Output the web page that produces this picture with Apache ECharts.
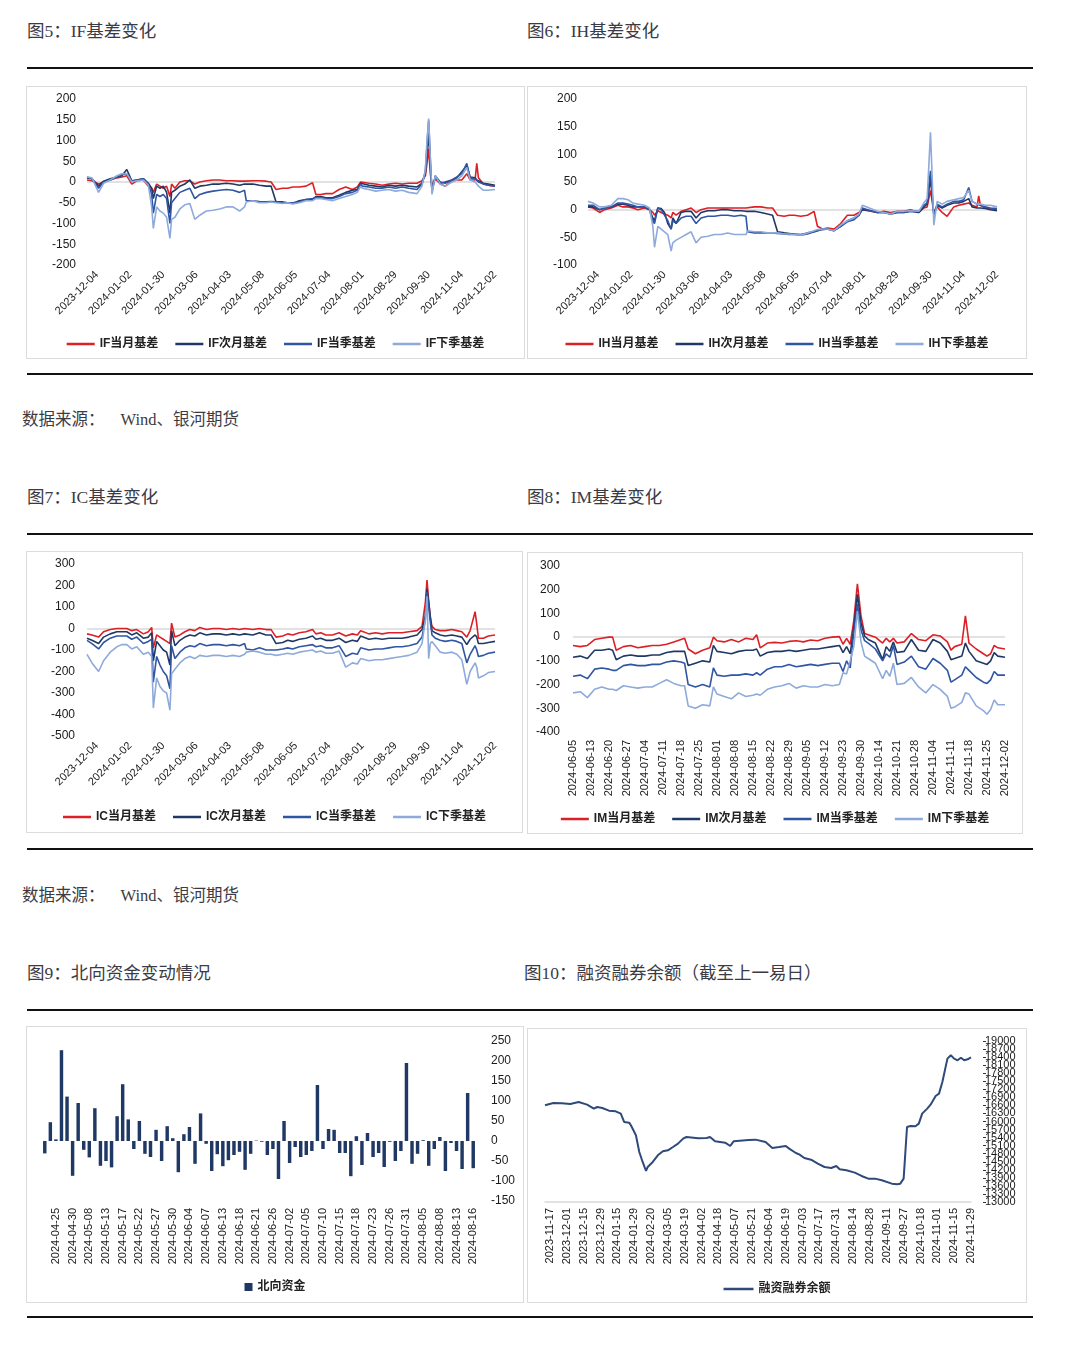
<!DOCTYPE html>
<html><head><meta charset="utf-8">
<script src="https://cdn.jsdelivr.net/npm/echarts/dist/echarts.min.js"></script>
<style>
body{margin:0;background:#fff;width:1080px;height:1348px;position:relative;overflow:hidden;}
.t{position:absolute;font-family:"Liberation Serif","Noto Sans CJK SC",serif;font-size:17.5px;color:#3b3b45;white-space:nowrap;line-height:1;}
.s{font-size:16.5px;}
.rule{position:absolute;left:27px;width:1006px;height:2px;background:#111;}
.box{position:absolute;border:1px solid #dcdcdc;box-sizing:border-box;pointer-events:none;}
.ch{position:absolute;}
</style></head><body>
<div class="t" style="left:27px;top:23px">图5：IF基差变化</div>
<div class="t" style="left:527px;top:23px">图6：IH基差变化</div>
<div class="rule" style="top:67px"></div>
<div class="ch" id="c5" style="left:26px;top:86px;width:499px;height:273px"></div>
<div class="box" style="left:26px;top:86px;width:499px;height:273px"></div>
<div class="ch" id="c6" style="left:527px;top:86px;width:500px;height:273px"></div>
<div class="box" style="left:527px;top:86px;width:500px;height:273px"></div>
<div class="rule" style="top:373px"></div>
<div class="t s" style="left:22px;top:412px">数据来源：<span style="margin-left:16px">Wind、银河期货</span></div>
<div class="t" style="left:27px;top:489px">图7：IC基差变化</div>
<div class="t" style="left:527px;top:489px">图8：IM基差变化</div>
<div class="rule" style="top:533px"></div>
<div class="ch" id="c7" style="left:26px;top:551px;width:497px;height:282px"></div>
<div class="box" style="left:26px;top:551px;width:497px;height:282px"></div>
<div class="ch" id="c8" style="left:527px;top:552px;width:496px;height:282px"></div>
<div class="box" style="left:527px;top:552px;width:496px;height:282px"></div>
<div class="rule" style="top:848px"></div>
<div class="t s" style="left:22px;top:888px">数据来源：<span style="margin-left:16px">Wind、银河期货</span></div>
<div class="t" style="left:27px;top:965px">图9：北向资金变动情况</div>
<div class="t" style="left:524px;top:965px">图10：融资融券余额（截至上一易日）</div>
<div class="rule" style="top:1009px"></div>
<div class="ch" id="c9" style="left:26px;top:1026px;width:498px;height:277px"></div>
<div class="box" style="left:26px;top:1026px;width:498px;height:277px"></div>
<div class="ch" id="c10" style="left:527px;top:1028px;width:500px;height:275px"></div>
<div class="box" style="left:527px;top:1028px;width:500px;height:275px"></div>
<div class="rule" style="top:1316px"></div>
<script>
// ---------- calendars ----------
const sseClosed = ['2024-01-01','2024-02-09','2024-02-12','2024-02-13','2024-02-14','2024-02-15','2024-02-16','2024-04-04','2024-04-05','2024-05-01','2024-05-02','2024-05-03','2024-06-10','2024-09-16','2024-09-17','2024-10-01','2024-10-02','2024-10-03','2024-10-04','2024-10-07'];
const connectExtraClosed = ['2024-05-15','2024-07-01'];

// ---------- Fig 5-7 (shared key dates) ----------
const basisKeyDates = ['2023-11-24','2023-11-29','2023-12-05','2023-12-08','2023-12-14','2023-12-20','2023-12-25','2023-12-28','2024-01-03','2024-01-08',
'2024-01-12','2024-01-17','2024-01-19','2024-01-22','2024-01-24','2024-01-26','2024-01-30','2024-02-01','2024-02-05','2024-02-06',
'2024-02-08','2024-02-21','2024-02-26','2024-02-29','2024-03-05','2024-03-08','2024-03-14','2024-03-20','2024-03-26','2024-04-01',
'2024-04-09','2024-04-15','2024-04-18','2024-04-19','2024-04-25','2024-05-06','2024-05-10','2024-05-15','2024-05-20','2024-05-24',
'2024-05-29','2024-06-03','2024-06-07','2024-06-14','2024-06-20','2024-06-24','2024-06-27','2024-07-02','2024-07-08','2024-07-12',
'2024-07-18','2024-07-24','2024-07-29','2024-07-31','2024-08-01','2024-08-07','2024-08-13','2024-08-19','2024-08-23','2024-08-29',
'2024-09-04','2024-09-10','2024-09-19','2024-09-24','2024-09-26','2024-09-27','2024-09-30','2024-10-08','2024-10-09','2024-10-11',
'2024-10-16','2024-10-21','2024-10-25','2024-10-30','2024-11-04','2024-11-07','2024-11-11','2024-11-14','2024-11-15','2024-11-18',
'2024-11-21','2024-11-26','2024-12-02'];

const ifCur = [5,3,-5,0,5,10,12,15,-5,3, 5,-10,-15,-25,-5,-10,-15,-10,-35,-5, -15,0,3,3,-5,0,3,5,5,3, 3,2,2,2,3,3,2,0,-18,-15, -15,-12,-12,-10,-2,-30,-30,-28,-28,-18, -12,-18,-12,0,0,-3,-5,-8,-5,-3, -5,-3,-3,3,15,45,80,20,-10,8, -5,-10,3,5,5,20,5,5,45,10, -5,-8,-10];
const ifNext = [10,8,-10,2,8,12,15,30,3,5, 8,-3,-15,-40,-10,-15,-10,-25,-75,-25, -20,-10,-5,5,-15,-10,-8,-5,-5,-3, -5,-8,-5,-5,-5,-8,-10,-10,-48,-48, -50,-52,-45,-42,-42,-35,-35,-38,-38,-32, -25,-20,-18,-3,-5,-8,-10,-12,-8,-10, -8,-10,-12,-3,20,70,120,40,-20,12, -3,0,5,10,25,40,12,10,5,2, -3,-5,-8];
const ifCurQ = [12,8,-15,0,5,12,18,20,2,5, 8,-5,-30,-75,-30,-35,-30,-40,-100,-50, -40,-25,-20,-15,-40,-30,-25,-22,-20,-18, -20,-25,-20,-45,-45,-47,-48,-47,-48,-50, -50,-50,-48,-42,-40,-38,-38,-40,-40,-35, -28,-25,-20,-5,-10,-12,-15,-15,-12,-15, -12,-15,-18,-5,25,90,148,55,-25,15, 0,-3,5,12,20,45,10,8,5,0, -5,-8,-10];
const ifNextQ = [12,10,-25,-3,5,15,20,20,0,3, 5,-8,-60,-112,-60,-70,-75,-85,-136,-90, -85,-65,-55,-52,-90,-80,-70,-68,-65,-60, -60,-70,-60,-48,-45,-50,-50,-48,-50,-52, -50,-53,-50,-45,-45,-40,-40,-42,-45,-40, -35,-30,-25,-10,-15,-18,-22,-20,-18,-22, -20,-25,-28,-10,30,100,153,60,-30,15, -5,-10,0,5,15,35,5,0,-5,-10, -20,-20,-18];

const ihCur = [5,3,-5,0,3,8,5,5,3,0, 3,0,-5,-10,-2,-5,-8,-10,-15,-5, -10,-3,0,3,-5,0,3,3,3,3, 3,3,3,3,5,5,3,3,-10,-12, -10,-10,-12,-10,-3,-30,-35,-33,-35,-25, -10,-10,-5,0,0,-3,-5,-3,-5,-3, -3,0,-5,3,5,20,35,15,-5,5, -5,-12,5,8,10,12,8,5,25,8, 3,2,0];
const ihNext = [5,5,0,3,5,10,10,8,5,5, 5,0,-15,-20,3,2,-5,-25,-35,-15, -25,-5,-3,-3,-15,-5,-2,-2,0,0, -2,-2,-3,-3,-3,-5,-8,-10,-40,-42, -43,-44,-45,-42,-40,-38,-35,-35,-38,-30, -20,-15,-10,0,2,-2,-5,-5,-8,-5, -5,-3,-5,5,10,35,55,25,-8,8, 3,8,12,12,15,20,5,3,5,3, 2,0,-2];
const ihCurQ = [8,8,0,3,5,12,12,10,8,5, 5,0,-20,-25,3,0,-10,-20,-35,-20, -25,-15,-12,-12,-25,-15,-12,-12,-10,-10, -12,-10,-12,-40,-42,-42,-42,-42,-43,-44, -45,-45,-46,-44,-40,-38,-36,-35,-38,-30, -22,-18,-10,3,3,-2,-5,-5,-8,-5, -5,-3,-3,8,12,45,70,30,-10,10, 5,10,15,15,18,40,15,10,10,8, 5,3,2];
const ihNextQ = [15,12,5,5,8,20,20,18,12,10, 8,3,-30,-68,-30,-35,-40,-45,-75,-60, -55,-50,-45,-40,-60,-50,-48,-45,-45,-42, -45,-45,-45,-38,-40,-40,-42,-42,-42,-44, -44,-45,-46,-42,-38,-36,-35,-35,-38,-28, -20,-15,-8,8,8,2,-3,-5,-8,-3, -3,-2,-3,12,20,80,140,60,-28,15, 10,15,18,20,22,35,15,10,10,10, 8,8,5];

const icCur = [-25,-30,-40,-15,-5,0,0,0,-10,-5, -25,-15,5,-90,-30,-40,-50,-60,-70,25, -40,-30,-15,-5,-10,5,-5,0,0,-5, 0,-5,0,0,-5,0,-5,-5,-40,-35, -25,-30,-20,-15,-5,-25,-20,-30,-30,-20, -35,-25,-30,-10,-15,-25,-20,-25,-20,-20, -20,-15,-10,10,120,225,130,50,10,-5, -10,-10,-5,-10,-15,-40,-10,78,20,-45, -45,-35,-30];
const icNext = [-45,-55,-70,-40,-25,-15,-15,-15,-30,-20, -45,-40,-20,-150,-60,-80,-100,-110,-170,-10, -80,-55,-40,-30,-35,-20,-30,-25,-25,-30, -25,-30,-25,-25,-30,-20,-30,-30,-70,-65, -55,-60,-50,-45,-35,-50,-45,-55,-55,-45, -65,-55,-60,-35,-40,-50,-45,-50,-45,-45, -45,-40,-30,-5,60,185,120,55,-10,-20, -30,-35,-30,-35,-40,-75,-50,-30,-40,-70, -70,-65,-60];
const icCurQ = [-55,-70,-95,-65,-45,-35,-35,-35,-50,-40, -70,-60,-50,-250,-130,-170,-200,-220,-280,-80, -140,-110,-90,-80,-85,-70,-80,-75,-75,-80, -75,-80,-70,-95,-100,-90,-100,-100,-100,-95, -90,-95,-85,-80,-75,-85,-80,-90,-90,-80, -130,-115,-120,-90,-95,-100,-95,-95,-90,-85, -85,-80,-70,-40,40,170,100,30,-30,-45, -55,-60,-55,-60,-70,-160,-120,-80,-100,-130, -125,-115,-110];
const icNextQ = [-120,-160,-200,-150,-110,-85,-75,-75,-95,-85, -120,-110,-130,-370,-230,-270,-290,-300,-380,-210, -190,-160,-140,-130,-140,-125,-130,-125,-125,-130, -125,-130,-120,-110,-105,-110,-120,-120,-125,-120, -115,-120,-110,-105,-100,-110,-105,-115,-115,-105, -180,-160,-165,-140,-145,-150,-145,-145,-140,-135, -130,-125,-110,-70,40,150,-140,-70,-60,-80, -110,-115,-110,-120,-145,-260,-200,-160,-180,-230, -220,-205,-200];

// ---------- Fig 8 ----------
const imKeyDates = ['2024-06-05','2024-06-07','2024-06-12','2024-06-14','2024-06-18','2024-06-20','2024-06-21','2024-06-24','2024-06-26','2024-06-28',
'2024-07-02','2024-07-04','2024-07-08','2024-07-10','2024-07-12','2024-07-16','2024-07-18','2024-07-19','2024-07-22','2024-07-24',
'2024-07-26','2024-07-30','2024-07-31','2024-08-01','2024-08-05','2024-08-07','2024-08-09','2024-08-13','2024-08-15','2024-08-16',
'2024-08-19','2024-08-21','2024-08-23','2024-08-27','2024-08-29','2024-09-02','2024-09-04','2024-09-06','2024-09-10','2024-09-12',
'2024-09-18','2024-09-20','2024-09-23','2024-09-24','2024-09-25','2024-09-26','2024-09-27','2024-09-30','2024-10-08','2024-10-09',
'2024-10-11','2024-10-15','2024-10-16','2024-10-17','2024-10-18','2024-10-21','2024-10-23','2024-10-25','2024-10-29','2024-10-31',
'2024-11-04','2024-11-06','2024-11-08','2024-11-11','2024-11-12','2024-11-14','2024-11-15','2024-11-18','2024-11-20','2024-11-22',
'2024-11-25','2024-11-26','2024-11-27','2024-11-28','2024-12-02'];
const imCur = [-35,-40,-35,-10,-5,0,0,-55,-40,-35, -45,-40,-35,-35,-30,-20,-10,-5,-50,-70, -55,-45,0,-15,-20,-10,-20,-5,-10,10, -45,-25,-22,-25,-18,-15,-20,-12,-15,-5, 0,2,-30,-5,-30,70,225,90,15,10, 0,-25,-5,-20,-5,-25,-20,15,-10,-15, 10,5,-20,-55,-40,-30,90,-25,-50,-70, -80,-70,-35,-45,-50];
const imNext = [-85,-80,-90,-55,-55,-50,-55,-95,-80,-75, -80,-80,-75,-75,-65,-60,-60,-60,-120,-110, -100,-105,-35,-60,-65,-70,-60,-55,-55,-50, -80,-65,-60,-60,-55,-60,-55,-50,-50,-45, -40,-35,-65,-40,-70,40,180,60,5,-10, -25,-95,-40,-60,-20,-65,-60,-10,-55,-60, -10,-25,-60,-95,-90,-80,-25,-60,-100,-110, -115,-100,-65,-80,-85];
const imCurQ = [-165,-160,-175,-135,-130,-135,-140,-140,-120,-115, -120,-120,-115,-115,-105,-100,-105,-110,-200,-210, -200,-210,-130,-160,-165,-160,-160,-155,-160,-150, -160,-135,-125,-125,-115,-125,-120,-115,-120,-115, -110,-110,-145,-100,-130,20,140,30,-15,-25, -50,-100,-70,-85,-35,-115,-105,-80,-125,-135, -90,-110,-140,-190,-180,-160,-125,-140,-170,-190, -195,-180,-145,-160,-160];
const imNextQ = [-235,-230,-255,-220,-210,-220,-220,-225,-205,-210, -215,-210,-210,-195,-180,-195,-205,-205,-290,-300, -285,-290,-210,-240,-250,-260,-235,-250,-245,-240, -245,-220,-210,-205,-195,-215,-205,-210,-210,-200, -205,-200,-150,-155,-100,-40,110,-20,-80,-90, -110,-175,-140,-165,-110,-200,-195,-170,-210,-235, -200,-220,-250,-300,-295,-275,-235,-240,-290,-310, -325,-305,-265,-285,-285];

// ---------- Fig 9 (北向资金, 亿元) ----------
const northFlow = [-31,47,4,227,111,-87,95,-22,-41,82, -62,-50,-66,62,142,54,-20,50,-32,-40, 28,-50,37,7,-78,17,35,-57,69,-7, -75,-33,-63,-48,-35,-27,-72,-32,1,-2, -35,-20,-95,50,-55,-15,-40,-35,-25,140, -20,30,28,-30,-30,-88,12,-60,20,-40, -30,-65,-2,-50,-25,195,-57,-32,2,-62, -20,10,-75,-5,-25,-70,120,-68];

// ---------- Fig 10 (融资融券余额, 亿元) ----------
const marginKeyDates = ['2023-11-14','2023-11-21','2023-11-28','2023-12-05','2023-12-12','2023-12-19','2023-12-25','2023-12-27','2024-01-02','2024-01-08',
'2024-01-12','2024-01-17','2024-01-19','2024-01-24','2024-01-25','2024-01-30','2024-02-01','2024-02-05','2024-02-07','2024-02-08',
'2024-02-21','2024-02-26','2024-02-29','2024-03-05','2024-03-08','2024-03-13','2024-03-18','2024-03-20','2024-03-29','2024-04-09',
'2024-04-11','2024-04-16','2024-04-24','2024-04-29','2024-05-06','2024-05-17','2024-05-23','2024-05-31','2024-06-06','2024-06-13',
'2024-06-19','2024-06-21','2024-06-27','2024-07-01','2024-07-04','2024-07-10','2024-07-16','2024-07-22','2024-07-26','2024-07-31',
'2024-08-02','2024-08-08','2024-08-15','2024-08-21','2024-08-27','2024-09-02','2024-09-06','2024-09-18','2024-09-23','2024-09-25',
'2024-09-27','2024-10-08','2024-10-10','2024-10-15','2024-10-17','2024-10-21','2024-10-24','2024-10-28','2024-10-31','2024-11-04',
'2024-11-06','2024-11-11','2024-11-13','2024-11-15','2024-11-19','2024-11-21','2024-11-25','2024-11-27','2024-11-29'];
const marginBal = [16603,16690,16677,16650,16727,16628,16479,16541,16504,16404, 16380,16292,15982,15957,15858,15485,14864,14492,14156,14305, 14492,14740,14889,14926,15050,15175,15361,15423,15373,15386, 15423,15262,15212,15088,15262,15311,15324,15237,15013,15050, 15088,14988,14827,14777,14641,14578,14429,14305,14268,14342, 14218,14181,14094,13970,13871,13871,13808,13684,13659,13684, 13871,15796,15833,15821,15920,16292,16479,16628,16951,17038, 17472,18342,18466,18342,18280,18379,18280,18317,18391];

// ---------- helpers ----------
function tradingDays(start, end, closed){
  const set = new Set(closed), out = [];
  const p = s => Date.UTC(+s.slice(0,4), +s.slice(5,7)-1, +s.slice(8,10));
  for (let t = p(start); t <= p(end); t += 86400000){
    const d = new Date(t), wd = d.getUTCDay(), s = d.toISOString().slice(0,10);
    if (wd !== 0 && wd !== 6 && !set.has(s)) out.push(s);
  }
  return out;
}
function idxOf(cats, d){ for (let i=0;i<cats.length;i++) if (cats[i] >= d) return i; return cats.length-1; }
function pairs(cats, dates, vals){ return dates.map((d,k)=>[idxOf(cats,d), vals[k]]); }

const FONT = '"Liberation Sans", Arial, "Noto Sans CJK SC", sans-serif';
const COLORS = ['#dd1f26','#1f3864','#2f55a3','#8eaadb'];
const legendText = {fontSize:12, fontWeight:'bold', color:'#222', fontFamily:FONT};
const plain = v => String(v);

function basisOption(o){
  const names = o.names;
  return {
    animation:false,
    grid:{left:o.grid[0], top:o.grid[1], right:o.grid[2], bottom:o.grid[3], outerBoundsMode:'none'},
    legend:{top:o.legendTop, left:'center', icon:'rect', itemWidth:28, itemHeight:2.5, itemGap:17, textStyle:legendText, data:names},
    xAxis:{type:'category', data:o.cats, boundaryGap:false, axisLine:{show:false, onZero:false}, axisTick:{show:false},
      axisLabel:{interval:(i)=> i >= o.labelOffset && (i - o.labelOffset) % o.labelStep === 0, rotate:o.rotate, fontSize:11, color:'#1a1a1a', margin:o.xMargin, fontFamily:FONT}},
    yAxis:{type:'value', min:o.min, max:o.max, interval:o.interval, axisLine:{show:false}, axisTick:{show:false}, splitLine:{show:false},
      axisLabel:{fontSize:12, color:'#1a1a1a', margin:o.yMargin, fontFamily:FONT, formatter:plain}},
    series: o.values.map((v,k)=>{
      const s = {type:'line', name:names[k], data:pairs(o.cats, o.dates, v), symbol:'none', z:2+k,
        itemStyle:{color:COLORS[k]}, lineStyle:{color:COLORS[k], width:1.6}};
      if (k===0) s.markLine = {silent:true, symbol:'none', label:{show:false}, z:1, lineStyle:{color:'#d9d9d9', width:1.5, type:'solid'}, data:[{yAxis:0}]};
      return s;
    })
  };
}

const cats57 = tradingDays('2023-11-24','2024-12-02', sseClosed);
const cats8 = tradingDays('2024-06-05','2024-12-02', sseClosed);
const cats9 = tradingDays('2024-04-23','2024-08-16', sseClosed.concat(connectExtraClosed));
const cats10 = tradingDays('2023-11-14','2024-11-29', sseClosed);

echarts.init(document.getElementById('c5')).setOption(basisOption({
  cats:cats57, dates:basisKeyDates, values:[ifCur,ifNext,ifCurQ,ifNextQ], names:['IF当月基差','IF次月基差','IF当季基差','IF下季基差'],
  grid:[61,13,30,94], legendTop:247, min:-200, max:200, interval:50, labelOffset:6, labelStep:20, rotate:45, xMargin:8, yMargin:11}));
echarts.init(document.getElementById('c6')).setOption(basisOption({
  cats:cats57, dates:basisKeyDates, values:[ihCur,ihNext,ihCurQ,ihNextQ], names:['IH当月基差','IH次月基差','IH当季基差','IH下季基差'],
  grid:[61,13,30,94], legendTop:247, min:-100, max:200, interval:50, labelOffset:6, labelStep:20, rotate:45, xMargin:8, yMargin:11}));
echarts.init(document.getElementById('c7')).setOption(basisOption({
  cats:cats57, dates:basisKeyDates, values:[icCur,icNext,icCurQ,icNextQ], names:['IC当月基差','IC次月基差','IC当季基差','IC下季基差'],
  grid:[61,13,28,97], legendTop:255, min:-500, max:300, interval:100, labelOffset:6, labelStep:20, rotate:45, xMargin:8, yMargin:12}));
echarts.init(document.getElementById('c8')).setOption(basisOption({
  cats:cats8, dates:imKeyDates, values:[imCur,imNext,imCurQ,imNextQ], names:['IM当月基差','IM次月基差','IM当季基差','IM下季基差'],
  grid:[46,14,18,102], legendTop:256, min:-400, max:300, interval:100, labelOffset:0, labelStep:5, rotate:90, xMargin:8, yMargin:13}));

echarts.init(document.getElementById('c9')).setOption({
  animation:false,
  grid:{left:16, top:15, right:48, bottom:102, outerBoundsMode:'none'},
  legend:{top:250, left:'center', icon:'rect', itemWidth:8, itemHeight:8, itemGap:5, textStyle:legendText, data:['北向资金']},
  xAxis:{type:'category', data:cats9, axisLine:{show:false}, axisTick:{show:false},
    axisLabel:{rotate:90, interval:(i)=> i>=2 && (i-2)%3===0, fontSize:11, color:'#1a1a1a', margin:7, fontFamily:FONT}},
  yAxis:{type:'value', position:'right', min:-150, max:250, interval:50, axisLine:{show:false}, axisTick:{show:false}, splitLine:{show:false},
    axisLabel:{fontSize:12, color:'#1a1a1a', margin:15, fontFamily:FONT, formatter:plain}},
  series:[{type:'bar', name:'北向资金', data:northFlow, barWidth:'62%', itemStyle:{color:'#203864'}}]
});

const mgYLabel = {fontSize:11, color:'#1a1a1a', margin:2, fontFamily:FONT, hideOverlap:false, formatter:plain};
echarts.init(document.getElementById('c10')).setOption({
  animation:false,
  grid:{left:18, top:13, right:56, bottom:101, outerBoundsMode:'none'},
  legend:{top:250, left:'center', icon:'rect', itemWidth:30, itemHeight:2.5, textStyle:legendText, data:['融资融券余额']},
  xAxis:{type:'category', data:cats10, boundaryGap:false, axisLine:{show:true, lineStyle:{color:'#d9d9d9', width:1.5}}, axisTick:{show:false},
    axisLabel:{rotate:90, interval:(i)=> i>=3 && (i-3)%10===0, fontSize:11, color:'#1a1a1a', margin:6, fontFamily:FONT}},
  yAxis:[
    {type:'value', position:'right', offset:12, min:13000, max:19000, interval:300, axisLine:{show:false},
      axisTick:{show:true, length:3, lineStyle:{color:'#333'}}, splitLine:{show:false},
      axisLabel:Object.assign({showMinLabel:false, showMaxLabel:false}, mgYLabel)},
    {type:'value', position:'right', offset:12, min:13000, max:19000, interval:6000, axisLine:{show:false},
      axisTick:{show:true, length:3, lineStyle:{color:'#333'}}, splitLine:{show:false},
      axisLabel:Object.assign({showMinLabel:true, showMaxLabel:true}, mgYLabel)}
  ],
  series:[{type:'line', name:'融资融券余额', data:pairs(cats10, marginKeyDates, marginBal), symbol:'none', yAxisIndex:0,
    itemStyle:{color:'#2e4a7a'}, lineStyle:{color:'#2e4a7a', width:2}}]
});
</script>
</body></html>
